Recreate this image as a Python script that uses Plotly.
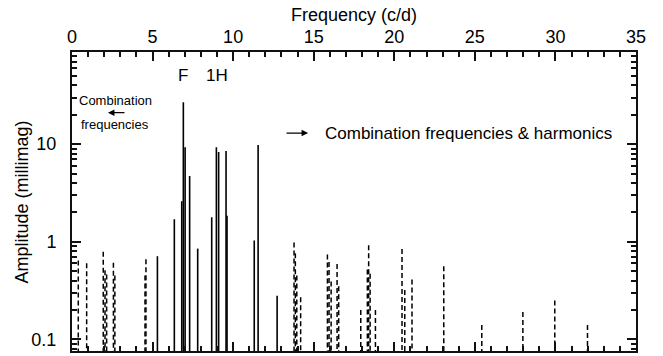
import plotly.graph_objects as go

# Main (independent) frequencies, c/d, and amplitudes (millimag)
freq_main = [5.30, 6.35, 6.81, 6.91, 7.02, 7.30, 7.80, 8.67, 8.96, 9.10, 9.56, 9.62, 11.31, 11.55, 12.73]
amp_main = [0.71, 1.70, 2.6, 26.8, 9.3, 4.7, 0.85, 1.78, 9.3, 8.3, 8.5, 1.85, 1.03, 9.8, 0.28]

# Combination frequencies & harmonics
freq_comb = [0.39, 0.91, 1.94, 2.05, 2.15, 2.57, 2.66, 4.53, 4.59,
             13.78, 13.86, 13.95, 14.19, 15.85, 15.95, 16.08, 16.45, 16.55,
             17.92, 18.33, 18.41, 18.50, 18.83, 20.48, 20.65, 21.10, 23.07,
             25.43, 27.98, 29.96, 31.99]
amp_comb = [0.64, 0.60, 0.79, 0.51, 0.46, 0.61, 0.45, 0.45, 0.66,
            0.98, 0.76, 0.45, 0.27, 0.74, 0.62, 0.39, 0.59, 0.35,
            0.20, 0.52, 0.92, 0.47, 0.20, 0.84, 0.32, 0.41, 0.56,
            0.14, 0.19, 0.25, 0.14]

y_ticks = [0.1, 1, 10]
y_ticktext = ["0.1", "1", "10"]
y_minor = [m * 10 ** e for e in (-2, -1, 0, 1) for m in range(2, 10)]
BASE = 0.01


def stems(fs, amps):
    xs, ys = [], []
    for f, a in zip(fs, amps):
        xs += [f, f, None]
        ys += [a, BASE, None]
    return xs, ys


fig = go.Figure()
x1, y1 = stems(freq_comb, amp_comb)
fig.add_trace(go.Scatter(x=x1, y=y1, mode="lines",
                         line=dict(color="black", width=1.5, dash="5px,3px"),
                         hoverinfo="skip", showlegend=False))
x0, y0 = stems(freq_main, amp_main)
fig.add_trace(go.Scatter(x=x0, y=y0, mode="lines",
                         line=dict(color="black", width=1.6),
                         hoverinfo="skip", showlegend=False))

FONT = "Liberation Sans, Arial, sans-serif"
AX = "#111111"

fig.update_layout(
    template="simple_white",
    width=663, height=356,
    margin=dict(l=72, r=27, t=52, b=5),
    paper_bgcolor="white", plot_bgcolor="white",
    font=dict(family=FONT, color="black", size=16),
    xaxis=dict(
        side="top", range=[0, 35], dtick=5, tick0=0, automargin=False,
        ticks="inside", ticklen=9, tickwidth=2, tickcolor=AX,
        showline=True, linewidth=2, linecolor=AX, mirror="allticks",
        showgrid=False, zeroline=False,
        tickfont=dict(size=18),
        title=dict(text="Frequency (c/d)", font=dict(size=18), standoff=0),
        minor=dict(dtick=1, ticks="inside", ticklen=5, tickwidth=1.6,
                   tickcolor=AX, showgrid=False),
    ),
    yaxis=dict(
        type="log", range=[-1.12, 1.944], automargin=False,
        tickvals=y_ticks, ticktext=y_ticktext,
        ticks="inside", ticklen=9, tickwidth=2, tickcolor=AX,
        showline=True, linewidth=2, linecolor=AX, mirror="allticks",
        showgrid=False, zeroline=False, ticklabelstandoff=10,
        tickfont=dict(size=18),
        minor=dict(tickvals=y_minor, ticks="inside", ticklen=5, tickwidth=1.6,
                   tickcolor=AX, showgrid=False),
    ),
)

# Y-axis title
fig.add_annotation(x=-0.0887, y=0.5, xref="paper", yref="paper",
                   xanchor="center", yanchor="middle", textangle=-90,
                   text="Amplitude (millimag)", showarrow=False,
                   font=dict(size=18))

# Peak labels
fig.add_annotation(x=6.91, y=0.92, xref="x", yref="paper", yanchor="middle",
                   text="F", showarrow=False, font=dict(size=17))
fig.add_annotation(x=9.0, y=0.92, xref="x", yref="paper", yanchor="middle",
                   text="1H", showarrow=False, font=dict(size=17))

# Left note
fig.add_annotation(x=2.67, y=0.839, xref="x", yref="paper", yanchor="middle",
                   text="Combination", showarrow=False, font=dict(size=13))
fig.add_annotation(x=2.67, y=0.759, xref="x", yref="paper", yanchor="middle",
                   text="frequencies", showarrow=False, font=dict(size=13))
fig.add_annotation(x=2.23, y=0.797, xref="x", yref="paper", ax=3.35, ay=0,
                   axref="x", ayref="pixel", text="", showarrow=True,
                   arrowhead=2, arrowsize=1, arrowwidth=1.3, arrowcolor="black")

# Right note
fig.add_annotation(x=14.65, y=0.729, xref="x", yref="paper", ax=13.22, ay=0,
                   axref="x", ayref="pixel", text="", showarrow=True,
                   arrowhead=2, arrowsize=1, arrowwidth=1.3, arrowcolor="black")
fig.add_annotation(x=15.58, y=0.729, xref="x", yref="paper", xanchor="left",
                   yanchor="middle", text="Combination frequencies & harmonics",
                   showarrow=False, font=dict(size=17))

fig.write_html("out.html")
